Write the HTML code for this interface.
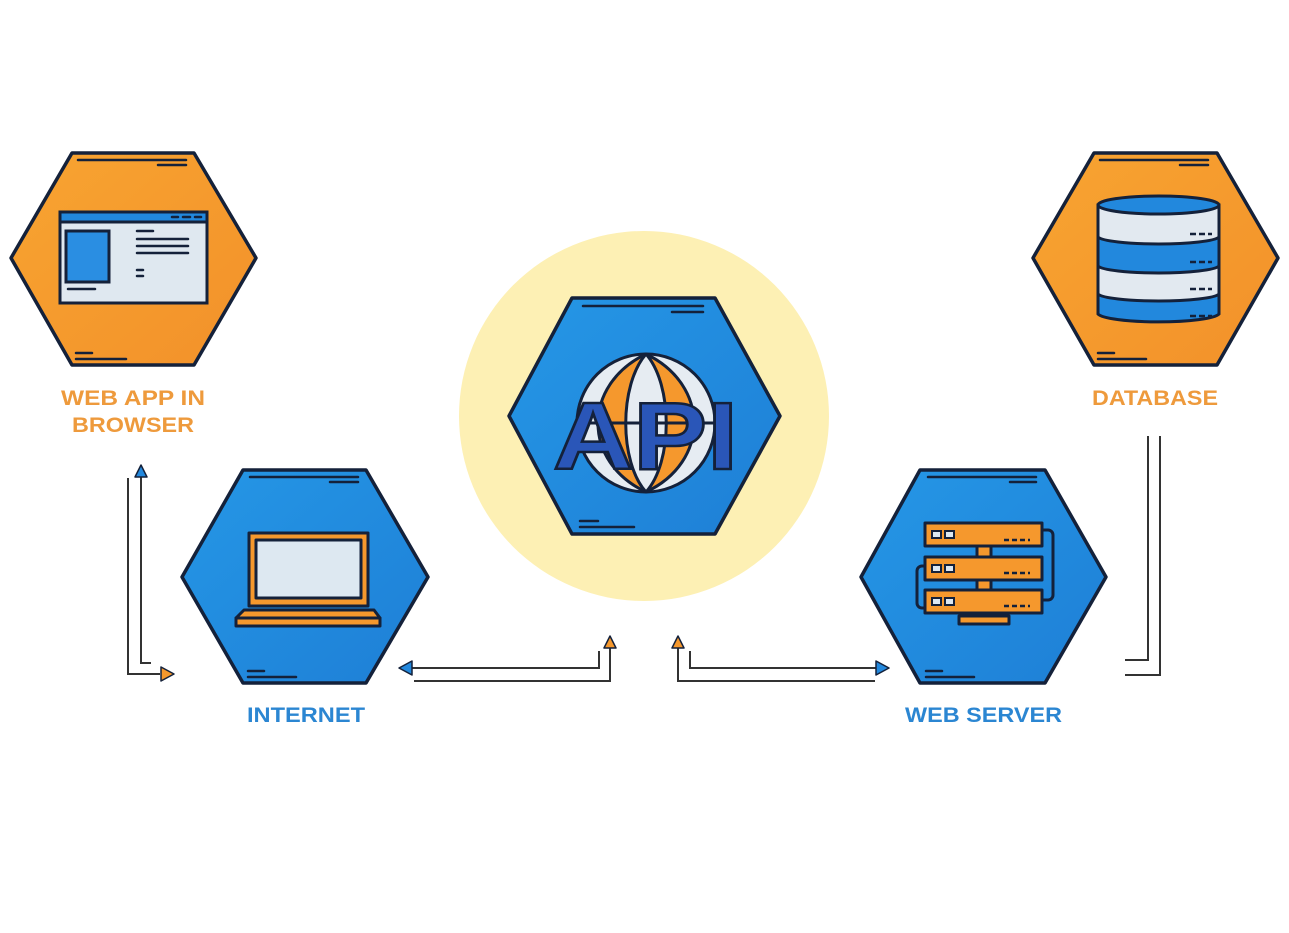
<!DOCTYPE html>
<html><head><meta charset="utf-8"><style>
html,body{margin:0;padding:0;background:#fff;}
svg{display:block}
text{font-family:"Liberation Sans",sans-serif;font-weight:bold;font-size:21px}
</style></head><body>
<svg width="1289" height="933" viewBox="0 0 1289 933" xmlns="http://www.w3.org/2000/svg">
<defs>
<linearGradient id="og" x1="0" y1="0" x2="1" y2="1"><stop offset="0" stop-color="#f8a431"/><stop offset="1" stop-color="#f2912a"/></linearGradient>
<linearGradient id="bg" x1="0" y1="0" x2="1" y2="1"><stop offset="0" stop-color="#2597e6"/><stop offset="1" stop-color="#1e7fd6"/></linearGradient>
</defs>
<circle cx="644" cy="416" r="185" fill="#fdf0b4"/>

<g stroke="#14213a" stroke-width="3.5" stroke-linejoin="round">
<polygon points="72,153 194,153 256,258 194,365 72,365 11,258" fill="url(#og)"/>
<polygon points="243,470 366,470 428,577 366,683 243,683 182,577" fill="url(#bg)"/>
<polygon points="572,298 715,298 780,416 715,534 572,534 509,416" fill="url(#bg)"/>
<polygon points="920,470 1045,470 1106,577 1045,683 920,683 861,577" fill="url(#bg)"/>
<polygon points="1094,153 1217,153 1278,258 1217,365 1094,365 1033,258" fill="url(#og)"/>
</g>
<g stroke="#14213a" stroke-width="2.5" stroke-linecap="round">
<line x1="78" y1="160" x2="186" y2="160"/><line x1="158" y1="165" x2="186" y2="165"/><line x1="76" y1="353" x2="92" y2="353"/><line x1="76" y1="359" x2="126" y2="359"/>
<line x1="250" y1="477" x2="358" y2="477"/><line x1="330" y1="482" x2="358" y2="482"/><line x1="248" y1="671" x2="264" y2="671"/><line x1="248" y1="677" x2="296" y2="677"/>
<line x1="583" y1="306" x2="703" y2="306"/><line x1="672" y1="312" x2="703" y2="312"/><line x1="580" y1="521" x2="598" y2="521"/><line x1="580" y1="527" x2="634" y2="527"/>
<line x1="928" y1="477" x2="1036" y2="477"/><line x1="1010" y1="482" x2="1036" y2="482"/><line x1="926" y1="671" x2="942" y2="671"/><line x1="926" y1="677" x2="974" y2="677"/>
<line x1="1100" y1="160" x2="1208" y2="160"/><line x1="1180" y1="165" x2="1208" y2="165"/><line x1="1098" y1="353" x2="1114" y2="353"/><line x1="1098" y1="359" x2="1146" y2="359"/>
</g>

<g stroke="#14213a" stroke-width="3">
<rect x="60" y="212" width="147" height="91" fill="#dfe8f0"/>
<rect x="60" y="212" width="147" height="10" fill="#2288dd"/>
<rect x="66" y="231" width="43" height="51" fill="#2a8ee2"/>
</g>
<g stroke="#14213a" stroke-width="2.5" stroke-linecap="round">
<line x1="137" y1="231" x2="153" y2="231"/><line x1="137" y1="239" x2="188" y2="239"/><line x1="137" y1="246" x2="188" y2="246"/><line x1="137" y1="253" x2="188" y2="253"/>
<line x1="137" y1="270" x2="143" y2="270"/><line x1="137" y1="276" x2="143" y2="276"/><line x1="68" y1="289" x2="95" y2="289"/>
<line x1="172" y1="217" x2="178" y2="217"/><line x1="183" y1="217" x2="190" y2="217"/><line x1="195" y1="217" x2="201" y2="217"/>
</g>

<g stroke="#14213a" stroke-width="3" stroke-linejoin="round">
<rect x="249" y="533" width="119" height="73" fill="#f5982d"/>
<rect x="256" y="540" width="105" height="58" fill="#dde8f1"/>
<polygon points="244,610 374,610 380,618 236,618" fill="#f5982d"/>
<rect x="236" y="618" width="144" height="8" fill="#f5982d"/>
</g>

<g stroke="#14213a" stroke-width="3" fill="none">
<path d="M1040 530 h8 a5 5 0 0 1 5 5 v60 a5 5 0 0 1 -5 5 h-8"/>
<path d="M928 566 h-6 a5 5 0 0 0 -5 5 v32 a5 5 0 0 0 5 5 h6"/>
</g>
<g stroke="#14213a" stroke-width="3" fill="#f5982d" stroke-linejoin="round">
<rect x="977" y="545" width="14" height="70"/>
<rect x="959" y="616" width="50" height="8"/>
<rect x="925" y="523" width="117" height="23"/>
<rect x="925" y="557" width="117" height="23"/>
<rect x="925" y="590" width="117" height="23"/>
</g>
<g stroke="#14213a" stroke-width="2" fill="#dde8f1">
<rect x="932" y="531" width="9" height="7"/><rect x="945" y="531" width="9" height="7"/>
<rect x="932" y="565" width="9" height="7"/><rect x="945" y="565" width="9" height="7"/>
<rect x="932" y="598" width="9" height="7"/><rect x="945" y="598" width="9" height="7"/>
</g>
<g stroke="#14213a" stroke-width="2.5" stroke-dasharray="5,3">
<line x1="1004" y1="540" x2="1030" y2="540"/><line x1="1004" y1="573" x2="1030" y2="573"/><line x1="1004" y1="606" x2="1030" y2="606"/>
</g>

<g stroke="#14213a" stroke-width="3">
<path d="M1098 205 V314 A61 9 0 0 0 1219 314 V205 Z" fill="#2288dd"/>
<path d="M1098 205 V237 A61 8 0 0 0 1219 237 V205 Z" fill="#e2e9f0"/>
<path d="M1098 266 V294 A61 8 0 0 0 1219 294 V266 A61 8 0 0 1 1098 266 Z" fill="#e2e9f0"/>
<ellipse cx="1158.5" cy="205" rx="60.5" ry="9" fill="#2288dd"/>
</g>
<g stroke="#14213a" stroke-width="2.5" stroke-dasharray="6,3">
<line x1="1190" y1="234" x2="1212" y2="234"/><line x1="1190" y1="262" x2="1212" y2="262"/><line x1="1190" y1="289" x2="1212" y2="289"/><line x1="1190" y1="316" x2="1212" y2="316"/>
</g>

<g stroke="#14213a" stroke-width="3">
<circle cx="646" cy="423" r="69" fill="#e6ecf2"/>
<path d="M646 354 C582 385 582 462 646 492 C619 462 619 385 646 354Z" fill="#f5982d"/>
<path d="M646 354 C710 385 710 462 646 492 C673 462 673 385 646 354Z" fill="#f5982d"/>
<line x1="577" y1="423" x2="715" y2="423"/>
</g>
<text x="553" y="469" textLength="185" lengthAdjust="spacingAndGlyphs" style="font-size:96px" fill="#2a56b8" stroke="#14213a" stroke-width="2.5">API</text>

<g stroke="#333" stroke-width="2" fill="none">
<polyline points="141,477 141,663 151,663"/>
<polyline points="128,478 128,674 160,674"/>
<polyline points="412,668 599,668 599,651"/>
<polyline points="414,681 610,681 610,648"/>
<polyline points="678,648 678,681 875,681"/>
<polyline points="690,651 690,668 876,668"/>
<polyline points="1148,436 1148,660 1125,660"/>
<polyline points="1160,436 1160,675 1125,675"/>
</g>
<g stroke="#14213a" stroke-width="1.5" stroke-linejoin="round">
<polygon points="141,465 135,477 147,477" fill="#2288dd"/>
<polygon points="174,674 161,667 161,681" fill="#f5982d"/>
<polygon points="399,668 412,661 412,675" fill="#2288dd"/>
<polygon points="610,636 604,648 616,648" fill="#f5982d"/>
<polygon points="678,636 672,648 684,648" fill="#f5982d"/>
<polygon points="889,668 876,661 876,675" fill="#2288dd"/>
</g>

<text x="61" y="405" textLength="144" lengthAdjust="spacingAndGlyphs" fill="#ee9a3c">WEB APP IN</text>
<text x="72" y="432" textLength="122" lengthAdjust="spacingAndGlyphs" fill="#ee9a3c">BROWSER</text>
<text x="1092" y="405" textLength="126" lengthAdjust="spacingAndGlyphs" fill="#ee9a3c">DATABASE</text>
<text x="247" y="722" textLength="118" lengthAdjust="spacingAndGlyphs" fill="#2b86d2">INTERNET</text>
<text x="905" y="722" textLength="157" lengthAdjust="spacingAndGlyphs" fill="#2b86d2">WEB SERVER</text>
</svg>
</body></html>
